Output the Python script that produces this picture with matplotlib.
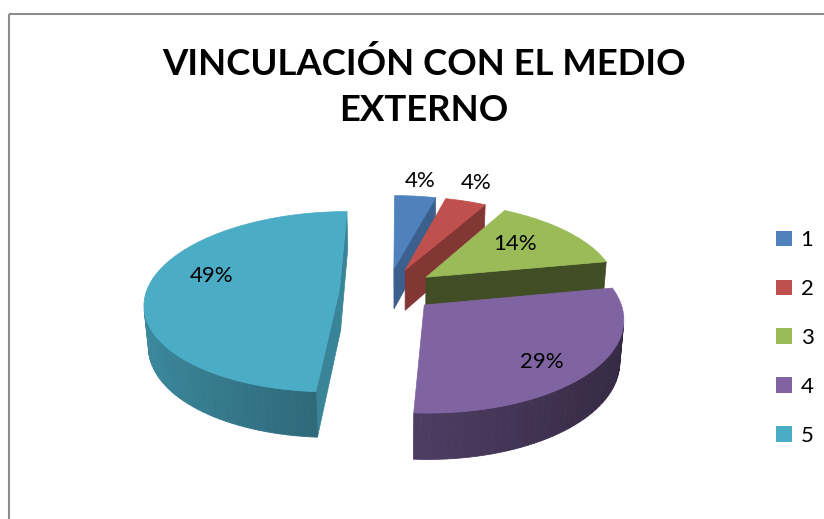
import numpy as np
import matplotlib.pyplot as plt
from matplotlib.patches import Polygon, Rectangle, Patch
from matplotlib.colors import to_rgb

plt.rcParams['font.family'] = ['Lato', 'DejaVu Sans']

# --- chart data ---
categories = ['1', '2', '3', '4', '5']
values = [4, 4, 14, 29, 49]
colors = ['#4F81BD', '#C0504D', '#9BBB59', '#8064A2', '#4BACC6']
title = 'VINCULACIÓN CON EL MEDIO\nEXTERNO'

# --- 3d view (pixel space, radius = 1) ---
pcx, pcy = 387.6, 290.0      # pie centre on screen
u0 = 400.6                   # camera axis on screen
f = 192.6                    # pixels per radius at centre depth
phi = np.radians(27.4)       # elevation
D = 6.44                     # camera distance
depth = 0.245
explode = 0.25
label_r = [1.25, 1.3, 0.65, 0.78, 0.70]
label_dt = [0, -1.5, -3, 5, 10.5]   # degrees

cam_x = (u0 - pcx) / f
eye = np.array([cam_x, -D * np.cos(phi), D * np.sin(phi)])


def project(X, Y, Z):
    X = np.asarray(X, float)
    Y = np.asarray(Y, float)
    Z = np.asarray(Z, float)
    dist = D + Y * np.cos(phi) - Z * np.sin(phi)
    s = D / dist
    sx = u0 + f * (X - cam_x) * s
    sy = pcy - f * (Y * np.sin(phi) + Z * np.cos(phi)) * s
    return np.column_stack([sx, sy])


def shade(c, k):
    r, g, b = to_rgb(c)
    return (r * k, g * k, b * k)


def visible(normal, point):
    return np.dot(normal, eye - point) > 0


fig = plt.figure(figsize=(8.24, 5.19), dpi=100)
ax = fig.add_axes([0, 0, 1, 1])
ax.set_xlim(0, 824)
ax.set_ylim(519, 0)
ax.axis('off')

total = float(sum(values))
bounds = np.radians(np.concatenate([[0], np.cumsum(values)]) / total * 360)

slices = []
for i, v in enumerate(values):
    t0, t1 = bounds[i], bounds[i + 1]
    tm = 0.5 * (t0 + t1)
    ox, oy = explode * np.sin(tm), explode * np.cos(tm)
    cen = np.array([ox + 0.5 * np.sin(tm), oy + 0.5 * np.cos(tm), 0])
    slices.append((np.linalg.norm(eye - cen), i, t0, t1, tm, ox, oy))

# farthest first
slices.sort(reverse=True)

z = 1
for _, i, t0, t1, tm, ox, oy in slices:
    c = colors[i]
    n = max(4, int(np.degrees(t1 - t0) / 2))
    t = np.linspace(t0, t1, n)
    ax_x = ox + np.sin(t)
    ax_y = oy + np.cos(t)

    # radial faces
    for tt, nrm in [(t0, np.array([-np.cos(t0), np.sin(t0), 0])),
                    (t1, np.array([np.cos(t1), -np.sin(t1), 0]))]:
        px, py = ox + np.sin(tt), oy + np.cos(tt)
        mid = np.array([(ox + px) / 2, (oy + py) / 2, -depth / 2])
        if visible(nrm, mid):
            pts = project([ox, px, px, ox], [oy, py, py, oy],
                          [0, 0, -depth, -depth])
            k = 0.77 - 0.37 * nrm[1] ** 2
            ax.add_patch(Polygon(pts, closed=True, facecolor=shade(c, k),
                                 edgecolor=shade(c, k), lw=0.5, zorder=z))
            z += 1

    # outer wall
    for j in range(n - 1):
        ta = 0.5 * (t[j] + t[j + 1])
        nrm = np.array([np.sin(ta), np.cos(ta), 0])
        mid = np.array([ox + np.sin(ta), oy + np.cos(ta), -depth / 2])
        if visible(nrm, mid):
            xs = [ax_x[j], ax_x[j + 1], ax_x[j + 1], ax_x[j]]
            ys = [ax_y[j], ax_y[j + 1], ax_y[j + 1], ax_y[j]]
            pts = project(xs, ys, [0, 0, -depth, -depth])
            k = 0.6 - 0.2 * np.sin(ta)
            ax.add_patch(Polygon(pts, closed=True, facecolor=shade(c, k),
                                 edgecolor=shade(c, k), lw=0.6, zorder=z))
    z += 1

    # top face
    pts = project(np.concatenate([[ox], ax_x]), np.concatenate([[oy], ax_y]),
                  np.zeros(n + 1))
    ax.add_patch(Polygon(pts, closed=True, facecolor=c, edgecolor=c,
                         lw=0.5, zorder=z))
    z += 1

# data labels
for i, v in enumerate(values):
    tm = 0.5 * (bounds[i] + bounds[i + 1])
    tl = tm + np.radians(label_dt[i])
    r = label_r[i]
    lx = explode * np.sin(tm) + r * np.sin(tl)
    ly = explode * np.cos(tm) + r * np.cos(tl)
    p = project([lx], [ly], [0])[0]
    ax.text(p[0], p[1], f'{v / total * 100:.0f}%', fontsize=16,
            ha='center', va='center', color='black', zorder=100)

# title
ax.text(424, 87, title, fontsize=26.3, fontweight='bold', ha='center',
        va='center', linespacing=1.46, zorder=100)

# legend
handles = [Patch(facecolor=c, edgecolor='none') for c in colors]
ax.legend(handles, categories, loc='center left',
          bbox_to_anchor=(765 / 824, 1 - 338 / 519), frameon=False,
          fontsize=16, handlelength=0.7, handleheight=0.7,
          handletextpad=0.4, labelspacing=1.3, borderpad=0)

# chart border
ax.add_patch(Rectangle((9, 14), 830, 520, fill=False, edgecolor='#8c8c8c',
                       lw=1.5, zorder=200))

fig.savefig('out.png', dpi=100)
